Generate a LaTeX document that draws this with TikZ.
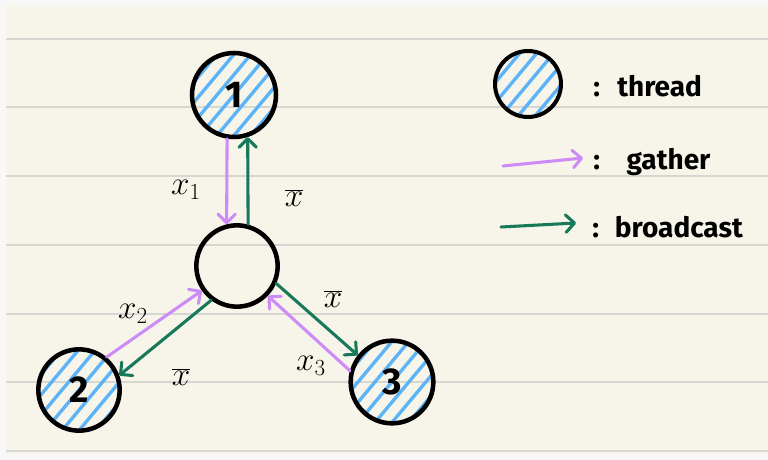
\documentclass[tikz,border=0pt]{standalone}
\usepackage{fontspec}
\setmainfont{Fira Sans}
\usetikzlibrary{arrows.meta}
\definecolor{paper}{HTML}{F7F5E9}
\definecolor{rulec}{HTML}{D6D6D3}
\definecolor{edgec}{HTML}{F8F8F8}
\definecolor{gath}{HTML}{CC8BF7}
\definecolor{bcast}{HTML}{17785A}
\definecolor{hatchc}{HTML}{5CB3F7}
\newcommand\hatchin[3]{%
  \begin{scope}
    \clip (#1,#2) circle[radius=#3];
    \foreach \t in {-65,-52,...,65}
      \draw[hatchline,shift={(#1,#2)}] (0.766*\t-38.6,0.643*\t+46) -- ++(77,-92);
  \end{scope}}
\begin{document}
\begin{tikzpicture}[x=0.75pt,y=-0.75pt,
  ring/.style={circle,draw=black,line width=3.4pt,minimum size=#1,inner sep=0pt,
    font=\fontsize{28}{30}\selectfont\bfseries},
  hatchline/.style={draw=hatchc,line width=2.5pt,line cap=round},
  rulel/.style={draw=rulec,line width=1.5pt},
  gatherarrow/.style={draw=gath,line width=2.3pt,line cap=round,
    -{Straight Barb[length=6.5pt,width=13pt,line width=2.3pt,round]}},
  bcastarrow/.style={draw=bcast,line width=2.3pt,line cap=round,
    -{Straight Barb[length=6.5pt,width=13pt,line width=2.3pt,round]}},
  mathlbl/.style={font=\fontsize{24}{26}\selectfont,inner sep=1pt},
  legtext/.style={anchor=west,font=\fontsize{21}{24}\selectfont\bfseries,inner sep=0pt}
]
\useasboundingbox (0,0) rectangle (768,460);
\fill[edgec] (0,0) rectangle (768,460);
\fill[paper] (6,5) rectangle (768,454);
\foreach \yy in {39,107.5,176,245,313.5,382,451}
  \draw[rulel] (6,\yy) -- (768,\yy);

% hatching of thread circles
\hatchin{234}{95}{40}
\hatchin{79}{390}{40}
\hatchin{392}{382}{40}
\hatchin{528}{84}{32}

% circles
\node[ring=63pt] (n1) at (234,95) {1};
\node[ring=61pt] (c) at (237,266) {};
\node[ring=61pt] (n2) at (79,390) {2};
\node[ring=62pt] (n3) at (392,382) {3};
\node[ring=49.5pt,line width=3pt] (lc) at (528,84) {};

% connectors
\draw[gatherarrow] (n1.-99) -- (c.104);
\draw[bcastarrow] (c.75) -- (n1.-72);
\draw[gatherarrow] (n2.50) -- (c.215);
\draw[bcastarrow] (c.233) -- (n2.20);
\draw[bcastarrow] (c.-24) -- (n3.142);
\draw[gatherarrow] (n3.165) -- (c.-44);

% labels
\node[mathlbl] (l1) at (186,190) {$x_1$};
\node[mathlbl] (l1b) at (294,198) {$\overline{x}$};
\node[mathlbl] (l2) at (133,314) {$x_2$};
\node[mathlbl] (l2b) at (181,377) {$\overline{x}$};
\node[mathlbl] (l3b) at (333,299) {$\overline{x}$};
\node[mathlbl] (l3) at (311,366) {$x_3$};

% legend
\coordinate (g0) at (503,166);
\coordinate (g1) at (583,158);
\coordinate (b0) at (501,227);
\coordinate (b1) at (576,223);
\draw[gatherarrow] (g0) -- (g1);
\draw[bcastarrow] (b0) -- (b1);
\node[legtext] (lt) at (593,86) {:\hspace{13pt}thread};
\node[legtext] (lgt) at (593,162) {:\hspace{20pt}gather};
\node[legtext] (lbt) at (592,227) {:\hspace{12pt}broadcast};
\end{tikzpicture}
\end{document}
